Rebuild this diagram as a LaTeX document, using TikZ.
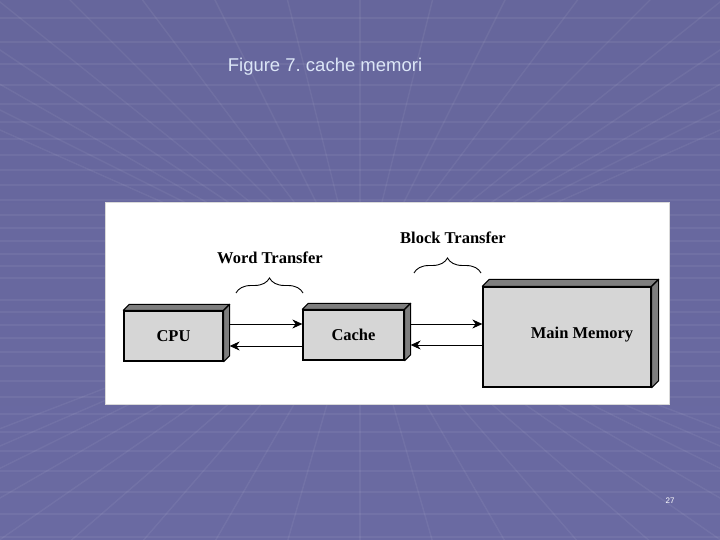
\documentclass[tikz,border=0pt]{standalone}
\usepackage{fontspec}
\setmainfont{Liberation Serif}
\newfontfamily\titlefont{Liberation Sans}
\usetikzlibrary{calc,arrows.meta,decorations.pathreplacing}
\frenchspacing
\definecolor{bgtop}{HTML}{66669C}
\definecolor{bgmid}{HTML}{45456F}
\definecolor{bgbot}{HTML}{6A6AA2}
\definecolor{titlecol}{HTML}{DCE6F7}
\definecolor{frontgray}{HTML}{D6D6D6}
\definecolor{sidegray}{HTML}{7E7E7E}
\tikzset{
  box/.style={draw=black, line width=1.3pt, fill=frontgray, inner sep=0pt,
    font=\fontsize{16.5}{18}\selectfont\bfseries},
  face/.style={draw=black, line width=1.1pt, fill=sidegray, line join=round},
  arr/.style={line width=0.9pt, -{Stealth[length=10pt,width=9pt]}},
  lbl/.style={font=\fontsize{16.5}{18}\selectfont\bfseries, inner sep=0pt},
  brc/.style={line width=0.9pt, decorate, decoration={brace, amplitude=15pt, aspect=0.5}},
  gridline/.style={white, opacity=0.06, line width=1.4pt}
}
\begin{document}
\begin{tikzpicture}[x=1pt,y=-1pt]
\useasboundingbox (0,0) rectangle (720,540);
% background
\shade[top color=bgtop, middle color=bgmid, bottom color=bgbot] (0,0) rectangle (720,540);
\foreach \yy in {18,42,64,85,104,122,139,155,170,185,200,215,228,241,254,266,278} {
  \draw[gridline] (0,\yy) -- (720,\yy);
}
\foreach \yy in {300,312,325,338,352,366,381,397,414,432,451,471,492,514,537} {
  \draw[gridline] (0,\yy) -- (720,\yy);
}
\foreach \k in {-9,...,9} {
  \draw[gridline] (360,290) -- ({360+\k*75},-10);
  \draw[gridline] (360,290) -- ({360+\k*75},550);
}
% title
\node[font=\titlefont\fontsize{18.5}{20}\selectfont, text=titlecol] (title) at (325,67) {Figure 7. cache memori};
% page number
\node[font=\titlefont\fontsize{8}{9}\selectfont, text=white] (pnum) at (670,501) {27};
% white panel
\node[fill=white, draw=white!85!black, line width=0.5pt, minimum width=564pt, minimum height=202pt, inner sep=0pt] (panel) at (387,303) {};
% boxes
\node[box, minimum width=99pt, minimum height=50pt] (cpu) at (173.5,336) {CPU};
\node[box, minimum width=101pt, minimum height=50pt] (cache) at (353.5,335) {Cache};
\node[box, minimum width=168pt, minimum height=100pt] (mm) at (567,337) {};
\node[lbl] (mmtext) at (582,335) {Main Memory};
% 3D faces
\foreach \n/\d in {cpu/6,cache/6,mm/7} {
  \draw[face] (\n.north west) -- ++(\d,-\d) -- ($(\n.north east)+(\d,-\d)$) -- (\n.north east) -- cycle;
  \draw[face] (\n.north east) -- ++(\d,-\d) -- ($(\n.south east)+(\d,-\d)$) -- (\n.south east) -- cycle;
}
% arrows
\draw[arr] ($(cpu.east)+(5,-12)$) -- ($(cache.west)+(0,-11)$);
\draw[arr] ($(cache.west)+(0,11)$) -- ($(cpu.east)+(6,10)$);
\draw[arr] ($(cache.east)+(6,-11)$) -- ($(mm.west)+(0,-13)$);
\draw[arr] ($(mm.west)+(0,8)$) -- ($(cache.east)+(6,10)$);
% labels and braces
\node[lbl] (word) at (270,258) {Word Transfer};
\node[lbl] (block) at (453,238) {Block Transfer};
\coordinate (wb1) at (236,293);
\coordinate (wb2) at (303,293);
\coordinate (bb1) at (414,273);
\coordinate (bb2) at (481,273);
\draw[brc] (wb1) -- (wb2);
\draw[brc] (bb1) -- (bb2);
\end{tikzpicture}
\end{document}
